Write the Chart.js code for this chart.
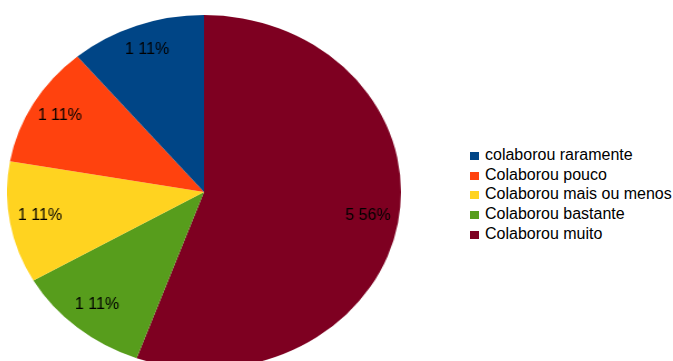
<!DOCTYPE html>
<html>
<head>
<meta charset="utf-8">
<script src="https://cdn.jsdelivr.net/npm/chart.js@4"></script>
<style>
  html, body { margin: 0; padding: 0; background: #fff; overflow: hidden; }
  body { width: 673px; height: 361px; position: relative; }
  #pie { position: absolute; left: 7px; top: 15px; }
  #legend { position: absolute; left: 470px; top: 145px; font: 16px "Liberation Sans", Arial, sans-serif; color: #000; }
  #legend div { height: 19.7px; line-height: 19.7px; white-space: nowrap; }
  #legend span { display: inline-block; width: 9px; height: 8px; margin-right: 6px; vertical-align: 0px; }
</style>
</head>
<body>
<canvas id="pie" width="354" height="354" style="width:394px;height:354px"></canvas>
<div id="legend"></div>
<script>
(function () {
  // legend order (as shown on the right)
  const categories = [
    "colaborou raramente",
    "Colaborou pouco",
    "Colaborou mais ou menos",
    "Colaborou bastante",
    "Colaborou muito",
  ];
  const counts = [1, 1, 1, 1, 5];
  const percentLabels = ["11%", "11%", "11%", "11%", "56%"];
  const colors = ["#004586", "#ff420e", "#ffd320", "#579d1c", "#7e0021"];

  const stretchX = 394 / 354; // the original pie is a bit wider than tall

  // slices run clockwise from the top starting with "muito", so feed them reversed
  const order = [4, 3, 2, 1, 0];

  const sliceLabels = {
    id: "sliceLabels",
    afterDatasetsDraw(chart) {
      const ctx = chart.ctx;
      const meta = chart.getDatasetMeta(0);
      ctx.save();
      ctx.font = "16px 'Liberation Sans', Arial, sans-serif";
      ctx.fillStyle = "#000";
      ctx.textAlign = "center";
      ctx.textBaseline = "middle";
      meta.data.forEach((arc, i) => {
        const p = arc.getProps(["x", "y", "startAngle", "endAngle", "outerRadius"], true);
        const mid = (p.startAngle + p.endAngle) / 2;
        const r = p.outerRadius * 0.845;
        const k = order[i];
        ctx.save();
        ctx.translate(p.x + Math.cos(mid) * r, p.y + Math.sin(mid) * r - 2);
        ctx.scale(1 / stretchX, 1);
        ctx.fillText(counts[k] + " " + percentLabels[k], 0, 0);
        ctx.restore();
      });
      ctx.restore();
    }
  };

  new Chart(document.getElementById("pie"), {
    type: "pie",
    data: {
      labels: order.map(i => categories[i]),
      datasets: [{
        data: order.map(i => counts[i]),
        backgroundColor: order.map(i => colors[i]),
        borderWidth: 0,
      }],
    },
    options: {
      responsive: false,
      animation: false,
      layout: { padding: 0 },
      plugins: {
        legend: { display: false },
        tooltip: { enabled: false },
      },
    },
    plugins: [sliceLabels],
  });

  const legend = document.getElementById("legend");
  categories.forEach((name, i) => {
    const row = document.createElement("div");
    const box = document.createElement("span");
    box.style.background = colors[i];
    row.appendChild(box);
    row.appendChild(document.createTextNode(name));
    legend.appendChild(row);
  });
})();
</script>
</body>
</html>
